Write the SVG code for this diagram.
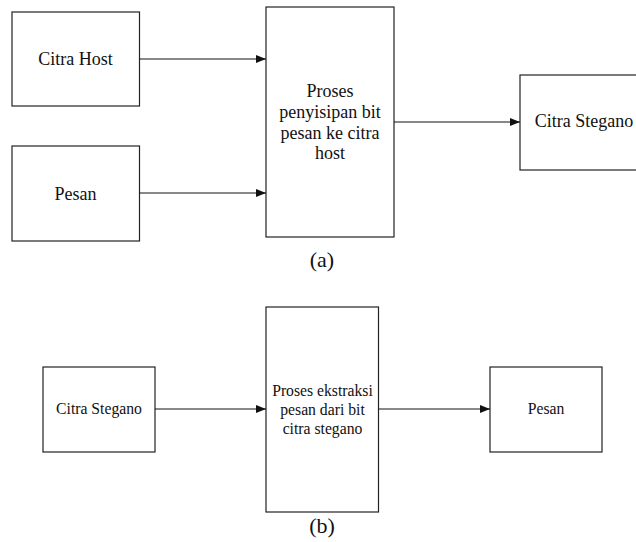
<svg xmlns="http://www.w3.org/2000/svg" width="636" height="542" viewBox="0 0 636 542">
<style>
.box{fill:#fff;stroke:#222;stroke-width:1.2}
text{font-family:'Liberation Serif','DejaVu Serif',serif;fill:#111;text-anchor:middle}
.a{font-size:18px}
.b{font-size:15.7px}
.c{font-size:22px}
.ln{stroke:#111;stroke-width:1;fill:none}
</style>
<defs>
<marker id="ah" markerWidth="10" markerHeight="8" refX="10" refY="4" orient="auto" markerUnits="userSpaceOnUse">
<path d="M0,0 L10,4 L0,8 Z" fill="#111"/>
</marker>
</defs>
<rect width="636" height="542" fill="#fff"/>
<g id="citra-host"><rect class="box" x="12" y="12" width="127.5" height="94"/><text class="a" x="75.5" y="65">Citra Host</text></g>
<g id="pesan-a"><rect class="box" x="12" y="146" width="127.5" height="95"/><text class="a" x="75.5" y="200">Pesan</text></g>
<g id="proses-a"><rect class="box" x="266" y="7" width="128" height="230"/>
<text class="a" x="330" y="97">Proses</text>
<text class="a" x="330" y="118">penyisipan bit</text>
<text class="a" x="330" y="138.5">pesan ke citra</text>
<text class="a" x="330" y="159">host</text></g>
<g id="citra-stegano-a"><rect class="box" x="520" y="75" width="130" height="95"/><text class="a" x="584" y="127">Citra Stegano</text></g>
<g id="label-a"><text class="c" x="322" y="267">(a)</text></g>
<g id="citra-stegano-b"><rect class="box" x="43" y="367" width="112" height="85"/><text class="b" x="99" y="414">Citra Stegano</text></g>
<g id="proses-b"><rect class="box" x="266" y="307" width="112.5" height="205"/>
<text class="b" x="322.5" y="396">Proses ekstraksi</text>
<text class="b" x="322.5" y="415">pesan dari bit</text>
<text class="b" x="322.5" y="434">citra stegano</text></g>
<g id="pesan-b"><rect class="box" x="490" y="367" width="112" height="85"/><text class="b" x="546" y="414">Pesan</text></g>
<g id="label-b"><text class="c" x="322" y="533">(b)</text></g>
<g id="connectors">
<line class="ln" x1="139.5" y1="59" x2="266" y2="59" marker-end="url(#ah)"/>
<line class="ln" x1="139.5" y1="193" x2="266" y2="193" marker-end="url(#ah)"/>
<line class="ln" x1="394" y1="122" x2="520" y2="122" marker-end="url(#ah)"/>
<line class="ln" x1="155" y1="409" x2="266" y2="409" marker-end="url(#ah)"/>
<line class="ln" x1="378.5" y1="409" x2="490" y2="409" marker-end="url(#ah)"/>
</g>
</svg>
